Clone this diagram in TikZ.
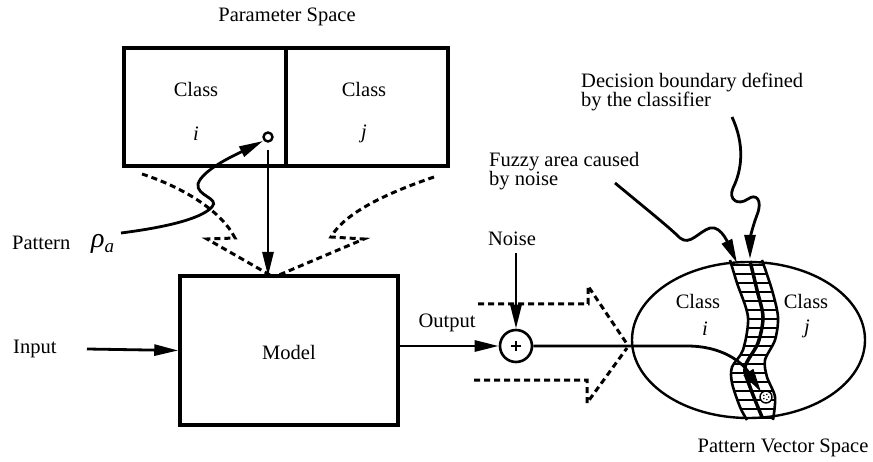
\documentclass[tikz,border=0pt]{standalone}
\usepackage{fontspec}
\setmainfont{Liberation Serif}
\usetikzlibrary{arrows.meta,shapes.geometric}
\tikzset{
  lbl/.style={font=\fontsize{20.5}{23}\selectfont, inner sep=1pt},
  lblleft/.style={lbl, align=left, anchor=north west},
  boxnode/.style={draw, line width=3.5pt, inner sep=0pt},
  conn/.style={line width=2.8pt, -{Triangle[length=24pt,width=11pt]}},
  hint/.style={line width=3pt, dash pattern=on 6pt off 4pt},
}
\begin{document}
\begin{tikzpicture}[x=1pt,y=-1pt]
\useasboundingbox (0,0) rectangle (873,462);

% ---- parameter space ----
\node[lbl] (ptitle) at (287,17) {Parameter Space};
\node[boxnode, minimum width=162pt, minimum height=118pt] (boxi) at (205,107) {};
\node[boxnode, minimum width=162pt, minimum height=118pt] (boxj) at (367,107) {};
\node[lbl] (classi) at (196,89) {Class};
\node[lbl] (vari) at (196,134) {\textit{i}};
\node[lbl] (classj) at (364,89) {Class};
\node[lbl] (varj) at (364,134) {\textit{j}};
\node[draw, circle, line width=2.4pt, minimum size=9pt, inner sep=0pt] (pa) at (268,137) {};

% ---- model ----
\node[boxnode, minimum width=218pt, minimum height=149pt] (model) at (289,350.5) {};
\node[lbl] (modeltxt) at (289,352) {Model};
\node[lbl, anchor=west] (inp) at (12,349) {Input};
\coordinate (instart) at (87,349);
\draw[conn] (instart) -- (model.west);

\coordinate (padown) at (268,150);
\coordinate (modeltop) at (268,276);
\draw[conn] (padown) -- (modeltop);

% ---- pattern label and its curve ----
\node[lbl, anchor=west] (pattxt) at (11,243) {Pattern};
\node[inner sep=0pt, anchor=west] (rho) at (91,244)
  {{\fontsize{28}{30}\selectfont\textit{ρ}}\raisebox{-5pt}{\fontsize{19}{20}\selectfont\textit{a}}};
\coordinate (patstart) at (121,233);
\coordinate (patend) at (263,141);
\draw[conn] (patstart) .. controls (160,228) and (200,220) .. (212,207)
  .. controls (220,198) and (196,196) .. (198,184)
  .. controls (202,170) and (235,155) .. (patend);

% ---- dashed influence arrows towards the model ----
\coordinate (ltip) at (270,275);
\coordinate (rtip) at (279,275);
\draw[hint] (142,174) .. controls (185,188) and (222,212) .. (235,238) -- (207,239) -- (ltip);
\draw[hint] (434,177) .. controls (390,192) and (345,212) .. (331,237) -- (364,239) -- (rtip);

% ---- output and noise ----
\node[draw, circle, line width=2.6pt, minimum size=32pt, inner sep=0pt] (sum) at (516,346) {};
\draw[line width=1.8pt] ([xshift=-5pt]sum.center) -- ([xshift=5pt]sum.center)
  ([yshift=-5pt]sum.center) -- ([yshift=5pt]sum.center);
\node[lbl] (outtxt) at (447,323) {Output};
\node[lbl] (noisetxt) at (512,239) {Noise};
\coordinate (noisestart) at (516,253);
\draw[conn] (model.east |- sum.west) -- (sum.west);
\draw[conn] (noisestart) -- (sum.north);

% dashed chevron towards the pattern vector space
\draw[hint] (478,304) -- (588,304) -- (588,286) -- (627,344);
\draw[hint] (474,380) -- (587,380) -- (587,403) -- (627,348);

% ---- pattern vector space ----
\node[draw, ellipse, line width=2.4pt, minimum width=233pt, minimum height=156pt, inner sep=0pt] (pvs) at (748.5,340) {};
\node[lbl] (vclassi) at (698,301) {Class};
\node[lbl] (vvari) at (705,329) {\textit{i}};
\node[lbl] (vclassj) at (806,301) {Class};
\node[lbl] (vvarj) at (807,329) {\textit{j}};
\node[lbl] (pvstxt) at (783,448) {Pattern Vector Space};

% fuzzy band with hatching
\begin{scope}
  \clip plot[smooth] coordinates {(730,260) (737,283) (748,317) (743,350) (732,367) (732,383) (740,407) (747,420)}
    -- plot[smooth] coordinates {(773,420) (775,397) (767,377) (765,360) (775,340) (778,317) (772,290) (762,260)} -- cycle;
  \foreach \yy in {265,274,...,420}
    \draw[line width=2pt] (720,\yy) -- (790,\yy);
\end{scope}
\draw[line width=2.6pt] plot[smooth] coordinates {(730,260) (737,283) (748,317) (743,350) (732,367) (732,383) (740,407) (747,420)};
\draw[line width=2.6pt] plot[smooth] coordinates {(762,260) (772,290) (778,317) (775,340) (765,360) (767,377) (775,397) (773,420)};
\draw[line width=3.5pt] plot[smooth] coordinates {(750,261) (757,290) (763,317) (758,343) (745,367) (750,387) (762,417)};

% point in pattern vector space
\node[draw, circle, fill=white, line width=1.4pt, minimum size=12pt, inner sep=0pt] (pv) at (766,397) {};
\foreach \a in {0,72,...,288}
  \fill ([shift={(\a:2.7pt)}]pv.center) circle (0.9pt);
\coordinate (outbend) at (687,346);
\draw[conn] (sum.east) -- (outbend) .. controls (722,346) and (742,362) .. (pv.north west);

% annotations
\node[lblleft] (dbtxt) at (580,72) {Decision boundary defined\\[-4pt]by the classifier};
\coordinate (dbstart) at (732,117);
\coordinate (dbend) at (750,259);
\draw[conn] (dbstart) .. controls (745,145) and (742,170) .. (733,188)
  .. controls (728,200) and (738,206) .. (748,199)
  .. controls (756,193) and (763,200) .. (757,215)
  .. controls (752,228) and (750,240) .. (dbend);

\node[lblleft] (fztxt) at (488,151) {Fuzzy area caused\\[-4pt]by noise};
\coordinate (fzstart) at (615,183);
\coordinate (fzend) at (737,263);
\draw[conn] (fzstart) .. controls (650,212) and (670,228) .. (680,238)
  .. controls (690,246) and (698,232) .. (710,228)
  .. controls (722,225) and (730,248) .. (fzend);
\end{tikzpicture}
\end{document}
